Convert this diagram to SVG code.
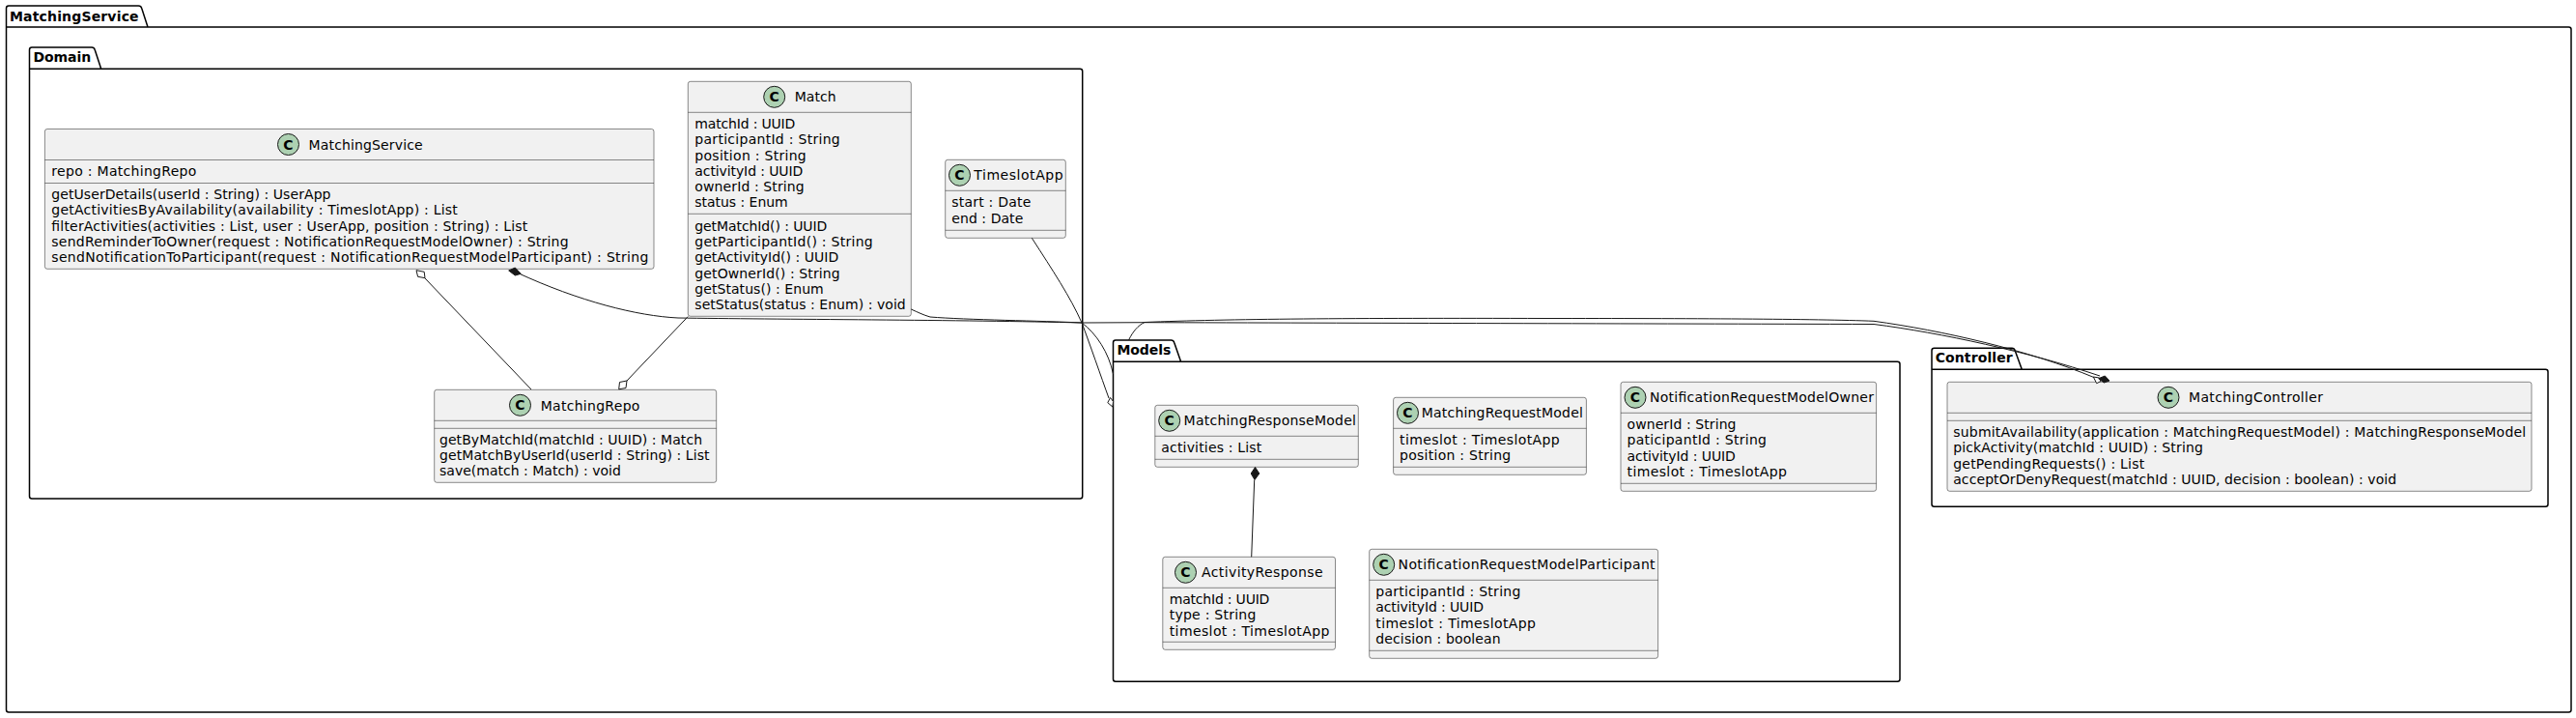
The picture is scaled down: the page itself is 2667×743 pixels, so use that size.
<svg xmlns="http://www.w3.org/2000/svg" width="2667" height="743" viewBox="0 0 2667 743">
<style>
text{font-family:"DejaVu Sans","Liberation Sans",sans-serif;font-size:14px;fill:#000}
.pkg path{fill:none;stroke:#000;stroke-width:1.5}
.pkg text{font-weight:bold}
.box{fill:#F1F1F1;stroke:#181818;stroke-width:.5}
.sep{stroke:#181818;stroke-width:.5}
.spot{fill:#ADD1B2;stroke:#181818;stroke-width:1}
.c{font-weight:bold;font-size:14px;text-anchor:middle}
#connectors path{fill:none;stroke:#181818;stroke-width:1}
.open{fill:#fff;stroke:#181818;stroke-width:1}
.full{fill:#181818;stroke:#181818;stroke-width:1}
</style>
<g id="pkg-MatchingService" class="pkg"><path d="M9,6L143.5,6Q146,6 146.7,8.5L153,28L2659.5,28Q2662,28 2662,30.5L2662,734.5Q2662,737 2659.5,737L9,737Q6.5,737 6.5,734.5L6.5,8.5Q6.5,6 9,6ZM6.5,28L153,28"/><text x="10" y="21.5" textLength="133.6">MatchingService</text></g>
<g id="pkg-Domain" class="pkg"><path d="M33,49L95,49Q97.5,49 98.2,51.5L104.7,71.3L1118.2,71.3Q1120.7,71.3 1120.7,73.8L1120.7,513.5Q1120.7,516 1118.2,516L33,516Q30.5,516 30.5,513.5L30.5,51.5Q30.5,49 33,49ZM30.5,71.3L104.7,71.3"/><text x="34.4" y="64.4" textLength="59.7">Domain</text></g>
<g id="pkg-Models" class="pkg"><path d="M1155,352L1212.5,352Q1215,352 1215.7,354.5L1222.6,374.3L1964.5,374.3Q1967,374.3 1967,376.8L1967,702.8Q1967,705.3 1964.5,705.3L1155,705.3Q1152.5,705.3 1152.5,702.8L1152.5,354.5Q1152.5,352 1155,352ZM1152.5,374.3L1222.6,374.3"/><text x="1156.4" y="367.4" textLength="55.9">Models</text></g>
<g id="pkg-Controller" class="pkg"><path d="M2002.5,360.3L2083,360.3Q2085.5,360.3 2086.2,362.8L2093.3,382.3L2635.5,382.3Q2638,382.3 2638,384.8L2638,521.8Q2638,524.3 2635.5,524.3L2002.5,524.3Q2000,524.3 2000,521.8L2000,362.8Q2000,360.3 2002.5,360.3ZM2000,382.3L2093.3,382.3"/><text x="2003.7" y="375.4" textLength="80">Controller</text></g>

<g id="MatchingService">
<rect class="box" x="46.4" y="133.5" width="630.6" height="144.8" rx="2.5"/>
<line class="sep" x1="46.4" x2="677" y1="165.5" y2="165.5"/><line class="sep" x1="46.4" x2="677" y1="189.5" y2="189.5"/>
<circle class="spot" cx="298.5" cy="149.5" r="11"/><text class="c" x="298.5" y="154.5">C</text>
<text x="319.6" y="154.5" textLength="118">MatchingService</text>
<text x="53.3" y="182" textLength="150">repo : MatchingRepo</text>
<text x="53.3" y="206" textLength="289.2">getUserDetails(userId : String) : UserApp</text>
<text x="53.3" y="222.3" textLength="420.5">getActivitiesByAvailability(availability : TimeslotApp) : List</text>
<text x="53.3" y="238.5" textLength="493">filterActivities(activities : List, user : UserApp, position : String) : List</text>
<text x="53.3" y="254.5" textLength="535.3">sendReminderToOwner(request : NotificationRequestModelOwner) : String</text>
<text x="53.3" y="270.5" textLength="618">sendNotificationToParticipant(request : NotificationRequestModelParticipant) : String</text>
</g>
<g id="Match">
<rect class="box" x="712.3" y="84.3" width="231" height="243" rx="2.5"/>
<line class="sep" x1="712.3" x2="943.3" y1="116.3" y2="116.3"/><line class="sep" x1="712.3" x2="943.3" y1="221.3" y2="221.3"/>
<circle class="spot" cx="801.7" cy="100.3" r="11"/><text class="c" x="801.7" y="105.3">C</text>
<text x="822.7" y="105" textLength="43">Match</text>
<text x="719.3" y="133" textLength="104">matchId : UUID</text>
<text x="719.3" y="149.2" textLength="150.4">participantId : String</text>
<text x="719.3" y="165.5" textLength="115.4">position : String</text>
<text x="719.3" y="181.6" textLength="112">activityId : UUID</text>
<text x="719.3" y="197.8" textLength="113.4">ownerId : String</text>
<text x="719.3" y="214" textLength="96.4">status : Enum</text>
<text x="719.3" y="239" textLength="137">getMatchId() : UUID</text>
<text x="719.3" y="255.2" textLength="184.4">getParticipantId() : String</text>
<text x="719.3" y="271.4" textLength="149">getActivityId() : UUID</text>
<text x="719.3" y="288" textLength="150.4">getOwnerId() : String</text>
<text x="719.3" y="304" textLength="133.4">getStatus() : Enum</text>
<text x="719.3" y="320" textLength="218.4">setStatus(status : Enum) : void</text>
</g>
<g id="TimeslotApp">
<rect class="box" x="978.7" y="165.3" width="124.6" height="81" rx="2.5"/>
<line class="sep" x1="978.7" x2="1103.3" y1="197.3" y2="197.3"/><line class="sep" x1="978.7" x2="1103.3" y1="238.3" y2="238.3"/>
<circle class="spot" cx="993.5" cy="181.3" r="11"/><text class="c" x="993.5" y="186.3">C</text>
<text x="1008.3" y="186" textLength="92.3">TimeslotApp</text>
<text x="985.3" y="214" textLength="82">start : Date</text>
<text x="985.3" y="230.7" textLength="74">end : Date</text>
</g>
<g id="MatchingRepo">
<rect class="box" x="449.7" y="403.3" width="292" height="96" rx="2.5"/>
<line class="sep" x1="449.7" x2="741.7" y1="435.3" y2="435.3"/><line class="sep" x1="449.7" x2="741.7" y1="443.3" y2="443.3"/>
<circle class="spot" cx="538.5" cy="419.3" r="11"/><text class="c" x="538.5" y="424.3">C</text>
<text x="559.7" y="424.5" textLength="102.7">MatchingRepo</text>
<text x="455" y="459.5" textLength="272">getByMatchId(matchId : UUID) : Match</text>
<text x="455" y="475.7" textLength="279.5">getMatchByUserId(userId : String) : List</text>
<text x="455" y="492" textLength="187.8">save(match : Match) : void</text>
</g>
<g id="MatchingResponseModel">
<rect class="box" x="1195.8" y="419.3" width="210.5" height="64" rx="2.5"/>
<line class="sep" x1="1195.8" x2="1406.3" y1="451.3" y2="451.3"/><line class="sep" x1="1195.8" x2="1406.3" y1="475.3" y2="475.3"/>
<circle class="spot" cx="1210.7" cy="435.3" r="11"/><text class="c" x="1210.7" y="440.3">C</text>
<text x="1225.6" y="440" textLength="178.3">MatchingResponseModel</text>
<text x="1202.3" y="467.7" textLength="104">activities : List</text>
</g>
<g id="MatchingRequestModel">
<rect class="box" x="1442.6" y="411.3" width="199.8" height="80" rx="2.5"/>
<line class="sep" x1="1442.6" x2="1642.4" y1="443.3" y2="443.3"/><line class="sep" x1="1442.6" x2="1642.4" y1="483.3" y2="483.3"/>
<circle class="spot" cx="1457.5" cy="427.3" r="11"/><text class="c" x="1457.5" y="432.3">C</text>
<text x="1471.7" y="432" textLength="167.2">MatchingRequestModel</text>
<text x="1449" y="459.7" textLength="165.7">timeslot : TimeslotApp</text>
<text x="1449" y="476" textLength="115.2">position : String</text>
</g>
<g id="NotificationRequestModelOwner">
<rect class="box" x="1678" y="395.3" width="264.6" height="113" rx="2.5"/>
<line class="sep" x1="1678" x2="1942.6" y1="427.3" y2="427.3"/><line class="sep" x1="1678" x2="1942.6" y1="500.3" y2="500.3"/>
<circle class="spot" cx="1693" cy="411.3" r="11"/><text class="c" x="1693" y="416.3">C</text>
<text x="1708" y="416" textLength="232">NotificationRequestModelOwner</text>
<text x="1684.5" y="444" textLength="113">ownerId : String</text>
<text x="1684.5" y="460" textLength="144.5">paticipantId : String</text>
<text x="1684.5" y="476.5" textLength="112.4">activityId : UUID</text>
<text x="1684.5" y="492.7" textLength="165.5">timeslot : TimeslotApp</text>
</g>
<g id="ActivityResponse">
<rect class="box" x="1203.8" y="576.3" width="178.7" height="96" rx="2.5"/>
<line class="sep" x1="1203.8" x2="1382.5" y1="608.3" y2="608.3"/><line class="sep" x1="1203.8" x2="1382.5" y1="664.3" y2="664.3"/>
<circle class="spot" cx="1227.5" cy="592.3" r="11"/><text class="c" x="1227.5" y="597.3">C</text>
<text x="1244" y="597" textLength="125.5">ActivityResponse</text>
<text x="1210.7" y="625" textLength="103.7">matchId : UUID</text>
<text x="1210.7" y="641" textLength="89.6">type : String</text>
<text x="1210.7" y="657.5" textLength="165.7">timeslot : TimeslotApp</text>
</g>
<g id="NotificationRequestModelParticipant">
<rect class="box" x="1417.7" y="568.3" width="298.9" height="113" rx="2.5"/>
<line class="sep" x1="1417.7" x2="1716.6" y1="600.3" y2="600.3"/><line class="sep" x1="1417.7" x2="1716.6" y1="673.3" y2="673.3"/>
<circle class="spot" cx="1432.7" cy="584.3" r="11"/><text class="c" x="1432.7" y="589.3">C</text>
<text x="1447.6" y="589" textLength="266">NotificationRequestModelParticipant</text>
<text x="1424.3" y="617" textLength="150">participantId : String</text>
<text x="1424.3" y="633" textLength="111.7">activityId : UUID</text>
<text x="1424.3" y="649.5" textLength="165.7">timeslot : TimeslotApp</text>
<text x="1424.3" y="665.7" textLength="129.4">decision : boolean</text>
</g>
<g id="MatchingController">
<rect class="box" x="2016" y="395.3" width="605" height="113" rx="2.5"/>
<line class="sep" x1="2016" x2="2621" y1="427.3" y2="427.3"/><line class="sep" x1="2016" x2="2621" y1="435.3" y2="435.3"/>
<circle class="spot" cx="2245" cy="411.3" r="11"/><text class="c" x="2245" y="416.3">C</text>
<text x="2266" y="416" textLength="139">MatchingController</text>
<text x="2022.2" y="452" textLength="593">submitAvailability(application : MatchingRequestModel) : MatchingResponseModel</text>
<text x="2022.2" y="468" textLength="258.6">pickActivity(matchId : UUID) : String</text>
<text x="2022.2" y="484.5" textLength="198">getPendingRequests() : List</text>
<text x="2022.2" y="500.7" textLength="459">acceptOrDenyRequest(matchId : UUID, decision : boolean) : void</text>
</g>

<g id="connectors">
<path d="M535,282C600,312 660,327 702,329C800,330.5 1000,331 1120,334L1185,333.7C1400,334.3 1700,335 1940,335.5C2010,344.5 2100,364 2174,389"/>
<path d="M943.3,320C950,323 956,326 963,328C1000,331 1080,332 1120,334C1135,345 1148,365 1152.5,387"/>
<path d="M1068.3,246.3C1090,280 1108,307 1120,334C1128,355 1140,390 1148,412"/>
<path d="M1168.5,352C1173,343 1178,337 1185,333.5C1270,330 1400,329 1600,329.5C1750,329.5 1880,330 1940,332.3C2010,342 2100,362 2169,391"/>
<path d="M712.3,327.5L649,394"/>
<path d="M550,403L440,288"/>
<path d="M1298.7,496.7L1295.7,576.3"/>
<polygon class="open" points="431,279.7 439.2,281.3 440,287.7 432.6,286.3"/>
<polygon class="full" points="526.7,280 533.3,277 539.3,283.3 533.3,285"/>
<polygon class="open" points="649,394 641.5,395.5 640.7,402.8 648,401.5"/>
<polygon class="open" points="1149.5,411.5 1146.8,416.7 1151.8,421 1152.6,415.5"/>
<polygon class="full" points="1299.5,483.5 1303.8,490 1299,496.5 1295.2,490"/>
<polygon class="open" points="2167.3,390 2173.5,391 2175,394.5 2170.7,396.7"/>
<polygon class="full" points="2172.7,391.7 2179.3,389 2184,394 2178.3,396"/>
</g>
</svg>
